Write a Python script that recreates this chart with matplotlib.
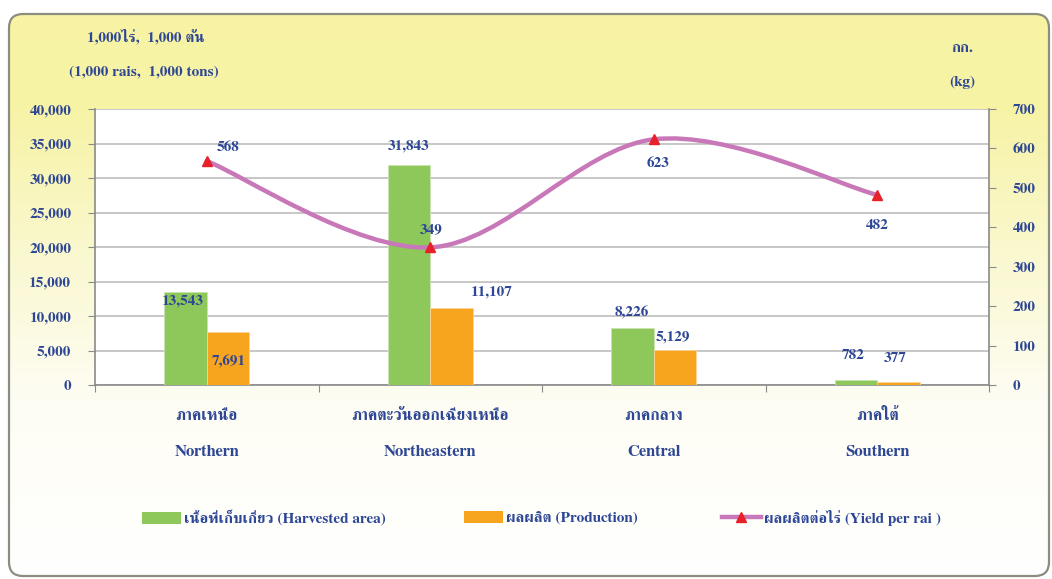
import numpy as np
import matplotlib
matplotlib.use("Agg")
import matplotlib.pyplot as plt
from matplotlib.patches import FancyBboxPatch, Patch, PathPatch
from matplotlib.lines import Line2D
from matplotlib.path import Path

plt.rcParams['font.family'] = ['FreeSerif', 'DejaVu Serif']
plt.rcParams['font.weight'] = 'bold'

# data
regions_th = ['ภาคเหนือ', 'ภาคตะวันออกเฉียงเหนือ', 'ภาคกลาง', 'ภาคใต้']
regions_en = ['Northern', 'Northeastern', 'Central', 'Southern']
area = [13543, 31843, 8226, 782]          # 1,000 rai
production = [7691, 11107, 5129, 377]     # 1,000 tons
yield_rai = [568, 349, 623, 482]          # kg per rai

left_ticks = list(range(0, 40001, 5000))
right_ticks = list(range(0, 701, 100))

# label offsets in pixels (dx, dy up)
area_off = [(-3, -9), (0, 19), (-1, 15), (-3, 24)]
prod_off = [(1, -30), (40, 16), (-2, 13), (-3, 24)]
yield_off = [(21, 14), (1, 18), (4, -24), (0, -31)]

W, H = 1052, 579
txt = '#2E4795'
green = '#8EC85A'
orange = '#F7A41F'
pink = '#C878B8'
red = '#E8202A'

def fx(x):
    return x / W

def fy(y):
    return 1 - y / H

fig = plt.figure(figsize=(W / 100, H / 100), dpi=100)
fig.patch.set_facecolor('white')

# background frame with gradient
bg = fig.add_axes([0, 0, 1, 1], zorder=-10)
bg.set_xlim(0, W)
bg.set_ylim(H, 0)
bg.axis('off')
frame = FancyBboxPatch((9, 14), 1040, 562, boxstyle='round,pad=0,rounding_size=14',
                       facecolor='none', edgecolor='#8C8C80', lw=1.6)
bg.add_patch(frame)
rows = np.arange(H)
stops_y = [0, 110, 250, 400, 579]
stops_c = np.array([[247, 243, 163], [247, 243, 166], [250, 248, 206],
                    [254, 253, 244], [255, 255, 255]]) / 255
grad = np.stack([np.interp(rows, stops_y, stops_c[:, k]) for k in range(3)], axis=1)
img = np.repeat(grad[:, None, :], 8, axis=1)
im = bg.imshow(img, extent=(0, W, H, 0), aspect='auto', zorder=0)
im.set_clip_path(frame)

# main axes
ax = fig.add_axes([fx(95), fy(385), (989 - 95) / W, (385 - 109) / H])
ax.set_facecolor('white')
x = np.arange(len(regions_en))
bw = 0.19
b1 = ax.bar(x - bw / 2, area, bw, color=green, edgecolor='#C9E3AE', lw=0.6, zorder=3)
b2 = ax.bar(x + bw / 2, production, bw, color=orange, edgecolor='#FBD49A', lw=0.6, zorder=3)
ax.set_xlim(-0.5, 3.5)
ax.set_ylim(0, 40000)
ax.set_yticks(left_ticks)
ax.set_yticklabels([f'{v:,}' for v in left_ticks])
ax.set_xticks(np.arange(-0.5, 4, 1))
ax.set_xticklabels([])
ax.yaxis.grid(True, color='#BDBDBD', lw=1.2, zorder=0)
ax.set_axisbelow(True)
for s in ['top', 'right']:
    ax.spines[s].set_visible(False)
for s in ['left', 'bottom']:
    ax.spines[s].set_color('#8A8A8A')
    ax.spines[s].set_linewidth(1.2)
ax.tick_params(axis='y', length=5, color='#8A8A8A', pad=12, labelsize=11, labelcolor=txt)
ax.tick_params(axis='x', length=5, color='#8A8A8A')

for i in range(len(x)):
    ax.text(x[i], -0.112, regions_th[i], transform=ax.get_xaxis_transform(),
            ha='center', va='center', fontsize=11.5, color=txt)
    ax.text(x[i], -0.243, regions_en[i], transform=ax.get_xaxis_transform(),
            ha='center', va='center', fontsize=12, color=txt)

for bars, vals, offs in [(b1, area, area_off), (b2, production, prod_off)]:
    for b, v, (dx, dy) in zip(bars, vals, offs):
        ax.annotate(f'{v:,}', (b.get_x() + b.get_width() / 2, v),
                    xytext=(dx * 0.72, dy * 0.72), textcoords='offset points',
                    ha='center', va='center', fontsize=11, color=txt, zorder=6)

# secondary axis - yield
ax2 = ax.twinx()
ax2.set_ylim(0, 700)
ax2.set_yticks(right_ticks)
for s in ['top', 'left', 'bottom']:
    ax2.spines[s].set_visible(False)
ax2.spines['right'].set_color('#8A8A8A')
ax2.spines['right'].set_linewidth(1.2)
ax2.tick_params(axis='y', length=5, color='#8A8A8A', pad=12, labelsize=11, labelcolor=txt)

# smoothed line (bezier through the points, like a spreadsheet smooth line)
pts = np.column_stack([x, yield_rai]).astype(float)
n = len(pts)
verts = [pts[0]]
codes = [Path.MOVETO]
for i in range(n - 1):
    p0 = pts[max(i - 1, 0)]
    p1 = pts[i]
    p2 = pts[i + 1]
    p3 = pts[min(i + 2, n - 1)]
    verts += [p1 + (p2 - p0) / 6, p2 - (p3 - p1) / 6, p2]
    codes += [Path.CURVE4] * 3
ax2.add_patch(PathPatch(Path(verts, codes), facecolor='none', edgecolor=pink,
                        lw=3.2, capstyle='round', zorder=4))
ax2.plot(x, yield_rai, '^', color=red, ms=6.5, zorder=5)
for xi, v, (dx, dy) in zip(x, yield_rai, yield_off):
    ax2.annotate(f'{v}', (xi, v), xytext=(dx * 0.72, dy * 0.72), textcoords='offset points',
                 ha='center', va='center', fontsize=11, color=txt, zorder=6)

# unit labels
fig.text(fx(146), fy(37), '1,000ไร่,  1,000 ตัน', ha='center', va='center', fontsize=11, color=txt)
fig.text(fx(144), fy(72), '(1,000 rais,  1,000 tons)', ha='center', va='center', fontsize=11, color=txt)
fig.text(fx(962), fy(48), 'กก.', ha='center', va='center', fontsize=11, color=txt)
fig.text(fx(962), fy(82), '(kg)', ha='center', va='center', fontsize=11, color=txt)

# legend
handles = [Patch(facecolor=green, edgecolor='none'),
           Patch(facecolor=orange, edgecolor='none'),
           Line2D([], [], color=pink, lw=3.2, marker='^', mfc=red, mec=red, ms=6.5)]
names = ['เนื้อที่เก็บเกี่ยว (Harvested area)', 'ผลผลิต (Production)', 'ผลผลิตต่อไร่ (Yield per rai )']
starts = [142, 464, 722]
for h, nm, sx in zip(handles, names, starts):
    fig.legend([h], [nm], loc='center left', bbox_to_anchor=(fx(sx), fy(518)),
               frameon=False, borderpad=0, borderaxespad=0, handlelength=2.55,
               handleheight=0.85, handletextpad=0.2, prop={'size': 11, 'weight': 'bold'},
               labelcolor=txt)

fig.savefig('out.png', dpi=100)
